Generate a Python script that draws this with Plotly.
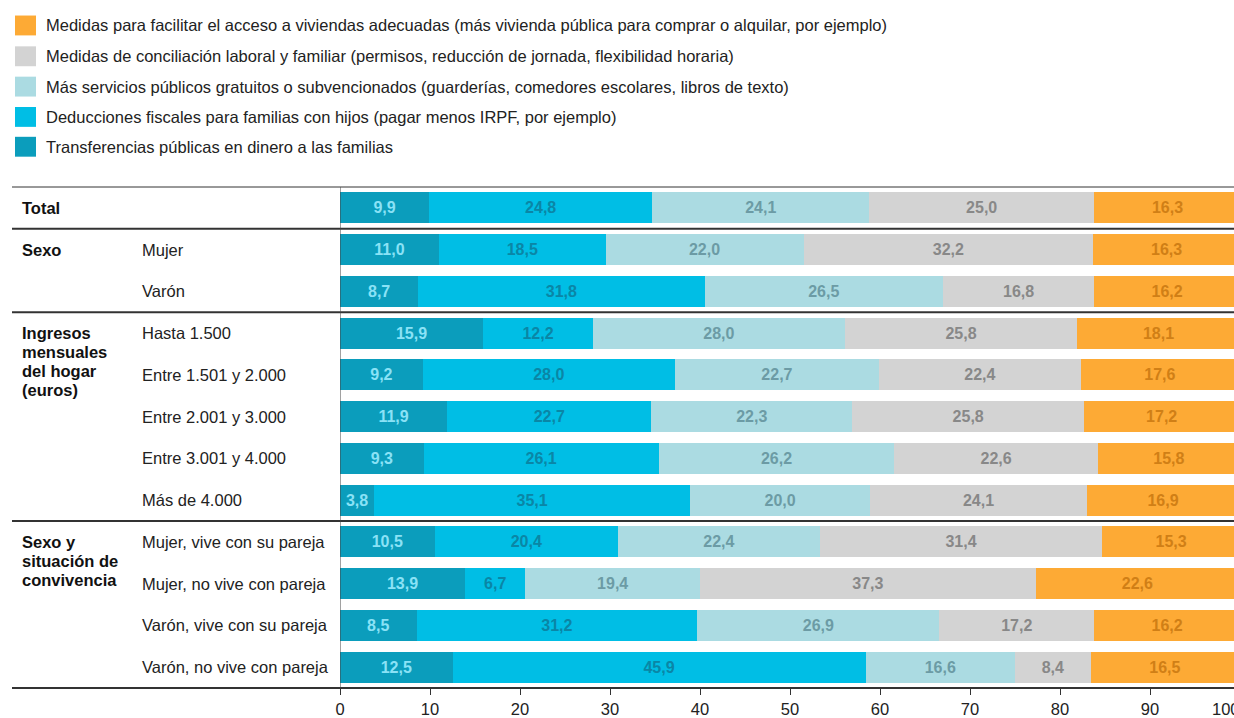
import plotly.graph_objects as go

# ---------------- data ----------------
categories = [
    "Total",
    "Mujer", "Varón",
    "Hasta 1.500", "Entre 1.501 y 2.000", "Entre 2.001 y 3.000",
    "Entre 3.001 y 4.000", "Más de 4.000",
    "Mujer, vive con su pareja", "Mujer, no vive con pareja",
    "Varón, vive con su pareja", "Varón, no vive con pareja",
]

transferencias = [9.9, 11.0, 8.7, 15.9, 9.2, 11.9, 9.3, 3.8, 10.5, 13.9, 8.5, 12.5]
deducciones = [24.8, 18.5, 31.8, 12.2, 28.0, 22.7, 26.1, 35.1, 20.4, 6.7, 31.2, 45.9]
servicios = [24.1, 22.0, 26.5, 28.0, 22.7, 22.3, 26.2, 20.0, 22.4, 19.4, 26.9, 16.6]
conciliacion = [25.0, 32.2, 16.8, 25.8, 22.4, 25.8, 22.6, 24.1, 31.4, 37.3, 17.2, 8.4]
vivienda = [16.3, 16.3, 16.2, 18.1, 17.6, 17.2, 15.8, 16.9, 15.3, 22.6, 16.2, 16.5]

series_names = [
    "Transferencias públicas en dinero a las familias",
    "Deducciones fiscales para familias con hijos (pagar menos IRPF, por ejemplo)",
    "Más servicios públicos gratuitos o subvencionados (guarderías, comedores escolares, libros de texto)",
    "Medidas de conciliación laboral y familiar (permisos, reducción de jornada, flexibilidad horaria)",
    "Medidas para facilitar el acceso a viviendas adecuadas (más vivienda pública para comprar o alquilar, por ejemplo)",
]

groups = [
    (["Total"], "Total"),
    (["Sexo"], "Mujer"),
    (["Ingresos", "mensuales", "del hogar", "(euros)"], "Hasta 1.500"),
    (["Sexo y", "situación de", "convivencia"], "Mujer, vive con su pareja"),
]
subcategory_labels = [c for c in categories if c != "Total"]
x_ticks = [0, 10, 20, 30, 40, 50, 60, 70, 80, 90]

# ---------------- style ----------------
series_values = [transferencias, deducciones, servicios, conciliacion, vivienda]
bar_colors = ["#0b9dbc", "#00bee5", "#abdbe2", "#d3d3d3", "#fdaa35"]
text_colors = ["#8ae2f6", "#0a86a6", "#6c9ba5", "#888888", "#d07f16"]
FONT = "Liberation Sans, Arial, Helvetica, sans-serif"
FS = 16.5

W, H = 1234, 718
ML, MR, MT, MB = 340, 0, 186.5, 27.5
PW = W - ML - MR
PH = H - MT - MB


def px_to_paper_x(px):
    return (px - ML) / PW


def px_to_paper_y(py):
    return (H - MB - py) / PH


def fmt(v):
    return f"{v:.1f}".replace(".", ",")


fig = go.Figure()
for name, vals, col, tcol in zip(series_names, series_values, bar_colors, text_colors):
    fig.add_trace(go.Bar(
        y=categories, x=vals, name=name, orientation="h",
        marker=dict(color=col, line=dict(width=0)),
        width=0.74,
        text=[fmt(v) for v in vals],
        textposition="inside", insidetextanchor="middle",
        constraintext="none", textangle=0,
        textfont=dict(color=tcol, size=16, family=FONT, weight="bold"),
        hoverinfo="skip",
        showlegend=False,
    ))

shapes = []
annotations = []

# legend (drawn manually, top to bottom in reverse series order)
legend_y = [24, 55, 85.5, 116, 146]
for i, idx in enumerate([4, 3, 2, 1, 0]):
    yc = legend_y[i]
    shapes.append(dict(type="rect", xref="paper", yref="paper",
                       x0=px_to_paper_x(15), x1=px_to_paper_x(36),
                       y0=px_to_paper_y(yc - 10), y1=px_to_paper_y(yc + 10),
                       fillcolor=bar_colors[idx], line=dict(width=0)))
    annotations.append(dict(xref="paper", yref="paper",
                            x=px_to_paper_x(44), y=px_to_paper_y(yc),
                            xanchor="left", yanchor="middle", showarrow=False,
                            text=series_names[idx],
                            font=dict(family=FONT, size=FS, color="#222222")))

# row labels
for c in subcategory_labels:
    annotations.append(dict(xref="paper", yref="y", x=px_to_paper_x(140), y=c,
                            xanchor="left", yanchor="middle", showarrow=False,
                            text=c, font=dict(family=FONT, size=FS, color="#222222")))

# group labels (one annotation per line for tight line spacing)
for lines, row in groups:
    for k, line in enumerate(lines):
        annotations.append(dict(xref="paper", yref="y", x=px_to_paper_x(20), y=row,
                                xanchor="left", yanchor="middle", yshift=-19 * k,
                                showarrow=False, align="left",
                                text=f"<b>{line}</b>",
                                font=dict(family=FONT, size=FS, color="#111111")))

# "100" label partially cut at the right edge, as in the source
annotations.append(dict(xref="paper", yref="paper", x=px_to_paper_x(1226), y=px_to_paper_y(712),
                        xanchor="center", yanchor="middle", showarrow=False,
                        text="100", font=dict(family=FONT, size=FS, color="#222222")))

# separator lines
x_left = px_to_paper_x(12)
shapes.append(dict(type="line", xref="paper", yref="paper", x0=x_left, x1=1, y0=1, y1=1,
                   line=dict(color="#333333", width=1)))
for ysep in [0.5, 2.5, 7.5]:
    shapes.append(dict(type="line", xref="paper", yref="y", x0=x_left, x1=1, y0=ysep, y1=ysep,
                       line=dict(color="#333333", width=2)))
shapes.append(dict(type="line", xref="paper", yref="paper", x0=x_left, x1=1, y0=0, y1=0,
                   line=dict(color="#333333", width=2)))
# vertical baseline at 0
shapes.append(dict(type="line", xref="x", yref="paper", x0=0, x1=0, y0=0, y1=1,
                   line=dict(color="#444444", width=1)))

fig.update_layout(
    width=W, height=H,
    margin=dict(l=ML, r=MR, t=MT, b=MB, pad=0),
    barmode="stack",
    paper_bgcolor="white", plot_bgcolor="white",
    separators=",.",
    font=dict(family=FONT, size=FS, color="#222222"),
    shapes=shapes, annotations=annotations,
    showlegend=False,
    xaxis=dict(range=[0, (W - ML) / 9.0], tickvals=x_ticks, ticktext=[str(t) for t in x_ticks],
               showgrid=False, zeroline=False, showline=False,
               ticks="outside", ticklen=6, tickcolor="#333333", tickwidth=1,
               tickfont=dict(family=FONT, size=FS, color="#222222"), fixedrange=True),
    yaxis=dict(categoryorder="array", categoryarray=categories, autorange="reversed",
               showticklabels=False, showgrid=False, zeroline=False, showline=False,
               ticks="", fixedrange=True),
)

fig.write_html("out.html", config={"displayModeBar": False},
               post_script="document.body.style.margin='0';document.body.style.overflow='hidden';")
